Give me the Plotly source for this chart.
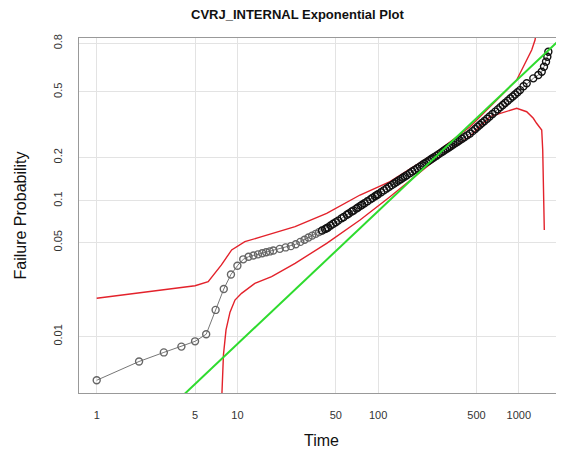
import numpy as np
import plotly.graph_objects as go

# observed failures (time, failure probability)
time = [1, 2, 3, 4, 5, 6, 7, 8, 9, 10, 11,
        12, 13, 14, 15, 16, 17, 18, 20, 22, 24, 26, 28, 30, 32, 34, 36, 38, 40,
        42, 43, 44, 46, 48, 50, 52, 55, 57, 60, 62, 65, 67, 70, 72, 75, 77, 80, 84, 88, 91,
        95, 98, 100, 105, 110, 115, 120, 125, 130, 135, 140, 145, 150, 155, 160, 168, 175,
        182, 190, 198, 205, 212, 220, 228, 235, 242, 250, 260, 270, 280, 290, 300, 310, 320,
        330, 342, 355, 367, 380, 395, 410, 430, 450, 470, 490, 510, 530, 550, 570, 595, 620,
        650, 680, 710, 740, 770, 800, 835, 870, 905, 940, 980, 1020, 1080,
        1138, 1268, 1376, 1455, 1510, 1561, 1595, 1622]
prob = [0.0047, 0.0065, 0.0076, 0.0084, 0.0092, 0.0104, 0.0158, 0.0226, 0.0290, 0.0336, 0.0375,
        0.0392, 0.0400, 0.0408, 0.0416, 0.0423, 0.0429, 0.0436, 0.0448, 0.0459, 0.0469, 0.0484,
        0.0504, 0.0523, 0.0542, 0.0560, 0.0577, 0.0594, 0.0611,
        0.0625, 0.0633, 0.0642, 0.0663, 0.0683, 0.0701, 0.0720, 0.0748, 0.0765, 0.0793, 0.0810,
        0.0837, 0.0853, 0.0879, 0.0895, 0.0920, 0.0937, 0.0961, 0.0992, 0.1023, 0.1046,
        0.1076, 0.1098, 0.1114, 0.1150, 0.1186, 0.1221, 0.1256, 0.1290, 0.1323, 0.1356, 0.1389,
        0.1420, 0.1452, 0.1483, 0.1514, 0.1562, 0.1604, 0.1645, 0.1690, 0.1733, 0.1772, 0.1812,
        0.1852, 0.1893, 0.1930, 0.1965, 0.2004, 0.2055, 0.2105, 0.2153, 0.2201, 0.2248, 0.2294,
        0.2339, 0.2383, 0.2437, 0.2490, 0.2541, 0.2593, 0.2655, 0.2716, 0.2790, 0.2868, 0.2965,
        0.3061, 0.3155, 0.3248, 0.3338, 0.3427, 0.3535, 0.3644, 0.3770, 0.3893, 0.4012, 0.4132,
        0.4245, 0.4359, 0.4488, 0.4613, 0.4733, 0.4852, 0.4985, 0.5111, 0.535,
        0.553, 0.584, 0.605, 0.626, 0.658, 0.690, 0.721, 0.751]

# confidence bounds
upper_time = [1, 5.0, 6.2, 7.7, 9.1, 11.3, 14.9, 19.5, 25.7, 43.1, 74.4, 121.5, 261,
              450, 776, 966, 1077, 1168, 1235, 1304, 1338]
upper_prob = [0.0193, 0.0239, 0.0256, 0.0341, 0.0440, 0.0506, 0.0550, 0.0598, 0.0651, 0.0813,
              0.1099, 0.1364, 0.217, 0.316, 0.492, 0.574, 0.658, 0.721, 0.761, 0.818, 0.868]
lower_time = [7.7, 7.96, 8.3, 8.86, 9.61, 10.7, 13.3, 17.5, 25.7, 43.1, 74.4, 121.5, 261,
              450, 624, 966, 1138, 1268, 1338, 1455, 1479, 1498, 1518]
lower_prob = [0.003, 0.0073, 0.0112, 0.0152, 0.0187, 0.0210, 0.0249, 0.0279, 0.035, 0.0492,
              0.0727, 0.1069, 0.196, 0.275, 0.3636, 0.4069, 0.3888, 0.3555, 0.3316, 0.3015,
              0.2241, 0.1193, 0.0616]

# fitted exponential line
fit_time = [4.2, 2100]
fit_prob = [0.0037, 0.842]

tick_probs = [0.01, 0.05, 0.1, 0.2, 0.5, 0.8]
tick_labels = ["0.01", "0.05", "0.1", "0.2", "0.5", "0.8"]
time_ticks = [1, 5, 10, 50, 100, 500, 1000]


def hazard(p):
    # exponential probability paper: -ln(1-F) on a log axis
    return -np.log1p(-np.asarray(p, dtype=float))


# sparse early points look grey, the crowded band reads as black
pt_colors = ["#666666" if t < 40 else "#111111" for t in time]

fig = go.Figure()
fig.add_trace(go.Scatter(x=upper_time, y=hazard(upper_prob), mode="lines",
                         line=dict(color="#e3222b", width=1.4)))
fig.add_trace(go.Scatter(x=lower_time, y=hazard(lower_prob), mode="lines",
                         line=dict(color="#e3222b", width=1.4)))
fig.add_trace(go.Scatter(x=time, y=hazard(prob), mode="lines+markers",
                         line=dict(color="#777777", width=1),
                         marker=dict(symbol="circle-open", size=7, color=pt_colors,
                                     line=dict(width=1.4))))
fig.add_trace(go.Scatter(x=fit_time, y=hazard(fit_prob), mode="lines",
                         line=dict(color="#2edb2e", width=2)))

# page body adds an 8px margin, so the figure is drawn 8px smaller
fig.update_layout(
    width=556, height=444,
    margin=dict(l=71, r=0, t=30, b=59),
    plot_bgcolor="white", paper_bgcolor="white",
    showlegend=False,
    font=dict(family="Liberation Sans, Arial, sans-serif", color="#333333"),
    xaxis=dict(type="log", range=[-0.1258, 3.3212], tickvals=time_ticks,
               ticktext=[str(t) for t in time_ticks],
               showgrid=True, gridcolor="#e3e3e3", gridwidth=1,
               showline=True, linecolor="#999999", linewidth=1, mirror=True,
               ticks="", ticklabelstandoff=12, tickfont=dict(size=11),
               zeroline=False),
    yaxis=dict(type="log", range=[-2.4226, 0.2465], tickvals=hazard(tick_probs),
               ticktext=tick_labels, tickangle=-90,
               showgrid=True, gridcolor="#e3e3e3", gridwidth=1,
               showline=True, linecolor="#999999", linewidth=1,
               ticks="", ticklabelstandoff=12, tickfont=dict(size=11),
               zeroline=False),
    annotations=[
        dict(text="<b>CVRJ_INTERNAL Exponential Plot</b>", xref="paper", yref="paper",
             x=0.4515, y=1, yshift=24, xanchor="center", yanchor="middle",
             showarrow=False, font=dict(size=13, color="#111111")),
        dict(text="Time", xref="paper", yref="paper", x=0.5, y=0, yshift=-47,
             xanchor="center", yanchor="middle", showarrow=False,
             font=dict(size=16, color="#111111")),
        dict(text="Failure Probability", xref="paper", yref="paper", x=0, xshift=-59,
             y=0.5, xanchor="center", yanchor="middle", textangle=-90,
             showarrow=False, font=dict(size=16, color="#111111")),
    ],
)

fig.write_html("out.html")
